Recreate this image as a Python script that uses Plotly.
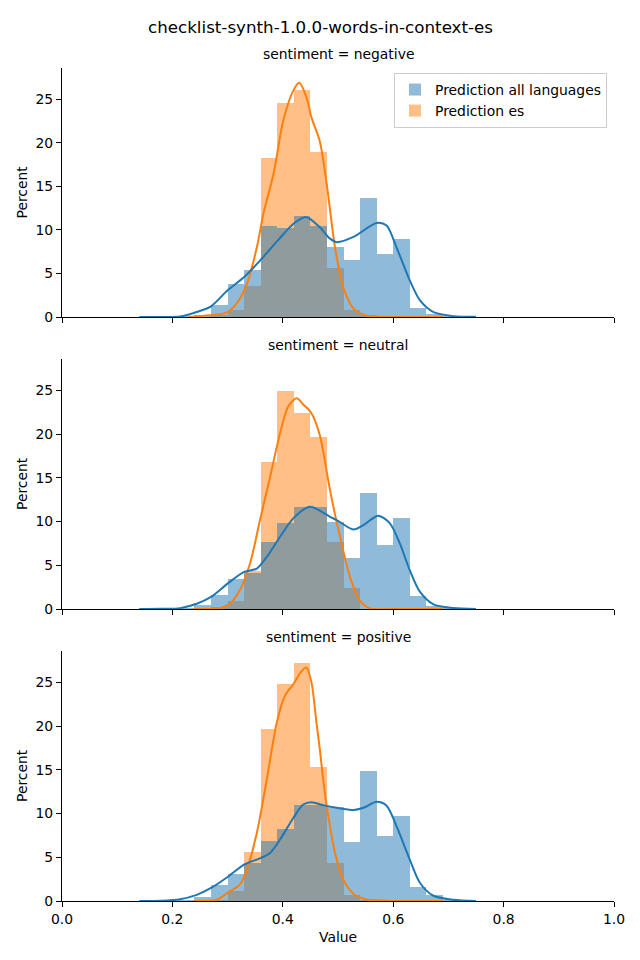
import plotly.graph_objects as go

TITLE = "checklist-synth-1.0.0-words-in-context-es"
PANELS = ["sentiment = negative", "sentiment = neutral", "sentiment = positive"]
SERIES = ["Prediction all languages", "Prediction es"]

# histogram bin edges (20 bins)
bin_edges = [0.15, 0.18, 0.21, 0.24, 0.27, 0.30, 0.33, 0.36, 0.39, 0.42, 0.45,
             0.48, 0.51, 0.54, 0.57, 0.60, 0.63, 0.66, 0.69, 0.72, 0.75]

# percent heights per bin
neg_all = [0.05, 0.05, 0.1, 0.25, 1.4, 3.8, 5.4, 10.4, 10.2, 11.6, 10.4, 8.0, 6.5, 13.7, 7.2, 9.0, 1.0, 0.4, 0.1, 0.05]
neg_es = [0, 0, 0, 0.05, 0.2, 0.8, 3.6, 18.3, 24.6, 26.1, 18.9, 5.6, 0.85, 0.2, 0, 0, 0, 0, 0, 0]
neu_all = [0.05, 0.05, 0.1, 0.5, 1.6, 3.4, 4.1, 7.7, 9.8, 11.7, 11.7, 9.9, 5.8, 13.3, 7.3, 10.4, 1.5, 0.3, 0.1, 0.05]
neu_es = [0, 0, 0, 0.05, 0.2, 0.9, 4.4, 16.8, 24.9, 22.4, 19.7, 7.7, 2.4, 0.05, 0, 0, 0, 0, 0, 0]
pos_all = [0.05, 0.05, 0.1, 0.5, 1.8, 3.1, 4.4, 6.9, 8.2, 11.0, 11.0, 10.7, 6.7, 14.9, 7.4, 9.7, 1.6, 0.7, 0.15, 0.1]
pos_es = [0, 0, 0, 0.05, 0.1, 1.2, 5.65, 19.7, 24.8, 27.2, 15.3, 4.4, 0.7, 0.1, 0, 0, 0, 0, 0, 0]

# KDE curves
neg_all_kde_x = [0.14, 0.18, 0.214, 0.244, 0.27, 0.30, 0.33, 0.3605, 0.391, 0.421, 0.443, 0.467, 0.4855, 0.4976, 0.528, 0.570, 0.588, 0.606, 0.630, 0.6486, 0.673, 0.709, 0.75]
neg_all_kde_y = [0.0, 0.01, 0.05, 0.57, 1.23, 3.06, 4.59, 6.6, 8.8, 10.8, 11.47, 10.3, 9.0, 8.6, 9.2, 10.8, 10.5, 8.0, 4.2, 1.9, 0.56, 0.1, 0.02]
neg_es_kde_x = [0.23, 0.268, 0.298, 0.316, 0.335, 0.353, 0.365, 0.383, 0.401, 0.419, 0.430, 0.443, 0.452, 0.467, 0.4795, 0.4946, 0.5096, 0.528, 0.546, 0.564, 0.60, 0.69]
neg_es_kde_y = [0.0, 0.2, 0.5, 1.5, 3.8, 8.0, 11.9, 16.4, 22.6, 26.0, 26.9, 25.2, 22.9, 20.2, 15.3, 8.0, 3.4, 0.96, 0.27, 0.05, 0.0, 0.0]
neu_all_kde_x = [0.14, 0.18, 0.214, 0.244, 0.27, 0.30, 0.33, 0.353, 0.371, 0.395, 0.419, 0.449, 0.4855, 0.4976, 0.528, 0.546, 0.573, 0.594, 0.612, 0.630, 0.6486, 0.673, 0.709, 0.75]
neu_all_kde_y = [0.0, 0.02, 0.1, 0.6, 1.38, 2.9, 4.24, 4.63, 5.96, 8.26, 10.37, 11.7, 10.55, 10.17, 9.1, 9.6, 10.67, 9.8, 7.5, 4.44, 1.95, 0.53, 0.12, 0.0]
neu_es_kde_x = [0.238, 0.286, 0.304, 0.322, 0.3406, 0.3587, 0.377, 0.395, 0.41, 0.425, 0.437, 0.452, 0.467, 0.4855, 0.5036, 0.5217, 0.54, 0.558, 0.60, 0.69]
neu_es_kde_y = [0.0, 0.1, 0.6, 2.14, 5.2, 10.17, 15.1, 20.1, 23.2, 24.1, 23.4, 22.4, 19.9, 13.6, 8.26, 3.67, 0.9, 0.05, 0.0, 0.0]
pos_all_kde_x = [0.14, 0.18, 0.214, 0.244, 0.27, 0.30, 0.33, 0.3605, 0.377, 0.395, 0.419, 0.437, 0.452, 0.473, 0.4976, 0.528, 0.546, 0.570, 0.588, 0.606, 0.630, 0.6486, 0.673, 0.709, 0.75]
pos_all_kde_y = [0.0, 0.03, 0.2, 0.7, 1.49, 2.75, 4.16, 4.93, 5.5, 7.03, 9.5, 11.04, 11.3, 10.97, 10.66, 10.4, 10.66, 11.35, 10.9, 8.56, 4.74, 2.06, 0.6, 0.15, 0.0]
pos_es_kde_x = [0.238, 0.28, 0.304, 0.322, 0.335, 0.353, 0.371, 0.389, 0.404, 0.419, 0.434, 0.443, 0.452, 0.461, 0.467, 0.473, 0.4795, 0.4946, 0.5096, 0.528, 0.55, 0.588, 0.69]
pos_es_kde_y = [0.0, 0.15, 1.1, 1.87, 3.6, 7.8, 13.9, 20.4, 23.5, 24.8, 26.3, 26.7, 25.0, 20.4, 17.4, 14.0, 10.9, 5.5, 2.44, 0.84, 0.2, 0.03, 0.0]

x_ticks = [0.0, 0.2, 0.4, 0.6, 0.8, 1.0]
y_ticks = [0, 5, 10, 15, 20, 25]

BLUE = "#1f77b4"
ORANGE = "#ff7f0e"
BLUE_FILL = "rgba(31,119,180,0.5)"
ORANGE_FILL = "rgba(255,127,14,0.5)"
FONT = "DejaVu Sans"

W, H = 640, 960
OFF = 8  # page body margin compensation
panels_data = [
    (neg_all, neg_es, neg_all_kde_x, neg_all_kde_y, neg_es_kde_x, neg_es_kde_y),
    (neu_all, neu_es, neu_all_kde_x, neu_all_kde_y, neu_es_kde_x, neu_es_kde_y),
    (pos_all, pos_es, pos_all_kde_x, pos_all_kde_y, pos_es_kde_x, pos_es_kde_y),
]
# pixel boxes (top, bottom) of each panel, in page pixels
boxes = [(68, 317), (359, 609), (651, 901)]
X0, X1 = 62, 614


def px(x):
    return (x - OFF) / W


def py(y):
    return 1 - (y - OFF) / H


lefts = bin_edges[:-1]
widths = [b - a for a, b in zip(bin_edges[:-1], bin_edges[1:])]

fig = go.Figure()
for i, (h_all, h_es, kax, kay, kex, key) in enumerate(panels_data):
    sfx = "" if i == 0 else str(i + 1)
    xa, ya = "x" + sfx, "y" + sfx
    fig.add_trace(go.Bar(x=lefts, y=h_es, width=widths, offset=0, marker_color=ORANGE_FILL,
                         marker_line_width=0, name=SERIES[1], legendgroup="es",
                         showlegend=(i == 0), legendrank=2, xaxis=xa, yaxis=ya, hoverinfo="skip"))
    fig.add_trace(go.Bar(x=lefts, y=h_all, width=widths, offset=0, marker_color=BLUE_FILL,
                         marker_line_width=0, name=SERIES[0], legendgroup="all",
                         showlegend=(i == 0), legendrank=1, xaxis=xa, yaxis=ya, hoverinfo="skip"))
    fig.add_trace(go.Scatter(x=kex, y=key, mode="lines", line=dict(color=ORANGE, width=2, shape="spline", smoothing=0.8),
                             showlegend=False, xaxis=xa, yaxis=ya, hoverinfo="skip"))
    fig.add_trace(go.Scatter(x=kax, y=kay, mode="lines", line=dict(color=BLUE, width=2, shape="spline", smoothing=0.8),
                             showlegend=False, xaxis=xa, yaxis=ya, hoverinfo="skip"))

layout = dict(
    width=W, height=H, autosize=False,
    margin=dict(l=0, r=0, t=0, b=0, pad=0, autoexpand=False),
    plot_bgcolor="white", paper_bgcolor="white",
    barmode="overlay", bargap=0,
    font=dict(family=FONT, size=13.9, color="black"),
    legend=dict(x=px(607), y=py(73), xanchor="right", yanchor="top",
                bgcolor="rgba(255,255,255,0.8)", bordercolor="#cccccc", borderwidth=1,
                font=dict(size=13.9), traceorder="normal"),
)
annotations = [dict(text=TITLE, x=px(320), y=py(27), xref="paper", yref="paper",
                    showarrow=False, font=dict(size=16.7), xanchor="center", yanchor="middle")]
for i, (top, bot) in enumerate(boxes):
    sfx = "" if i == 0 else str(i + 1)
    layout["xaxis" + sfx] = dict(
        domain=[px(X0), px(X1)], range=[0, 1], anchor="y" + sfx,
        showline=True, linecolor="black", linewidth=1.1, mirror=False,
        ticks="outside", ticklen=5, tickwidth=1.1, tickcolor="black",
        tickvals=x_ticks, tickformat=".1f", showticklabels=(i == 2),
        showgrid=False, zeroline=False, fixedrange=True, automargin=False)
    layout["yaxis" + sfx] = dict(
        domain=[py(bot), py(top)], range=[0, 28.6], anchor="x" + sfx,
        showline=True, linecolor="black", linewidth=1.1,
        ticks="outside", ticklen=5, tickwidth=1.1, tickcolor="black",
        tickvals=y_ticks, showgrid=False, zeroline=False, fixedrange=True, automargin=False)
    annotations.append(dict(text=PANELS[i], x=px((X0 + X1) / 2), y=py(top - 14),
                            xref="paper", yref="paper", showarrow=False,
                            xanchor="center", yanchor="middle", font=dict(size=13.9)))
    annotations.append(dict(text="Percent", x=px(22), y=py((top + bot) / 2),
                            xref="paper", yref="paper", showarrow=False, textangle=-90,
                            xanchor="center", yanchor="middle", font=dict(size=13.9)))
annotations.append(dict(text="Value", x=px((X0 + X1) / 2), y=py(937), xref="paper", yref="paper",
                        showarrow=False, xanchor="center", yanchor="middle", font=dict(size=13.9)))
layout["annotations"] = annotations
fig.update_layout(**layout)
fig.write_html("out.html")
